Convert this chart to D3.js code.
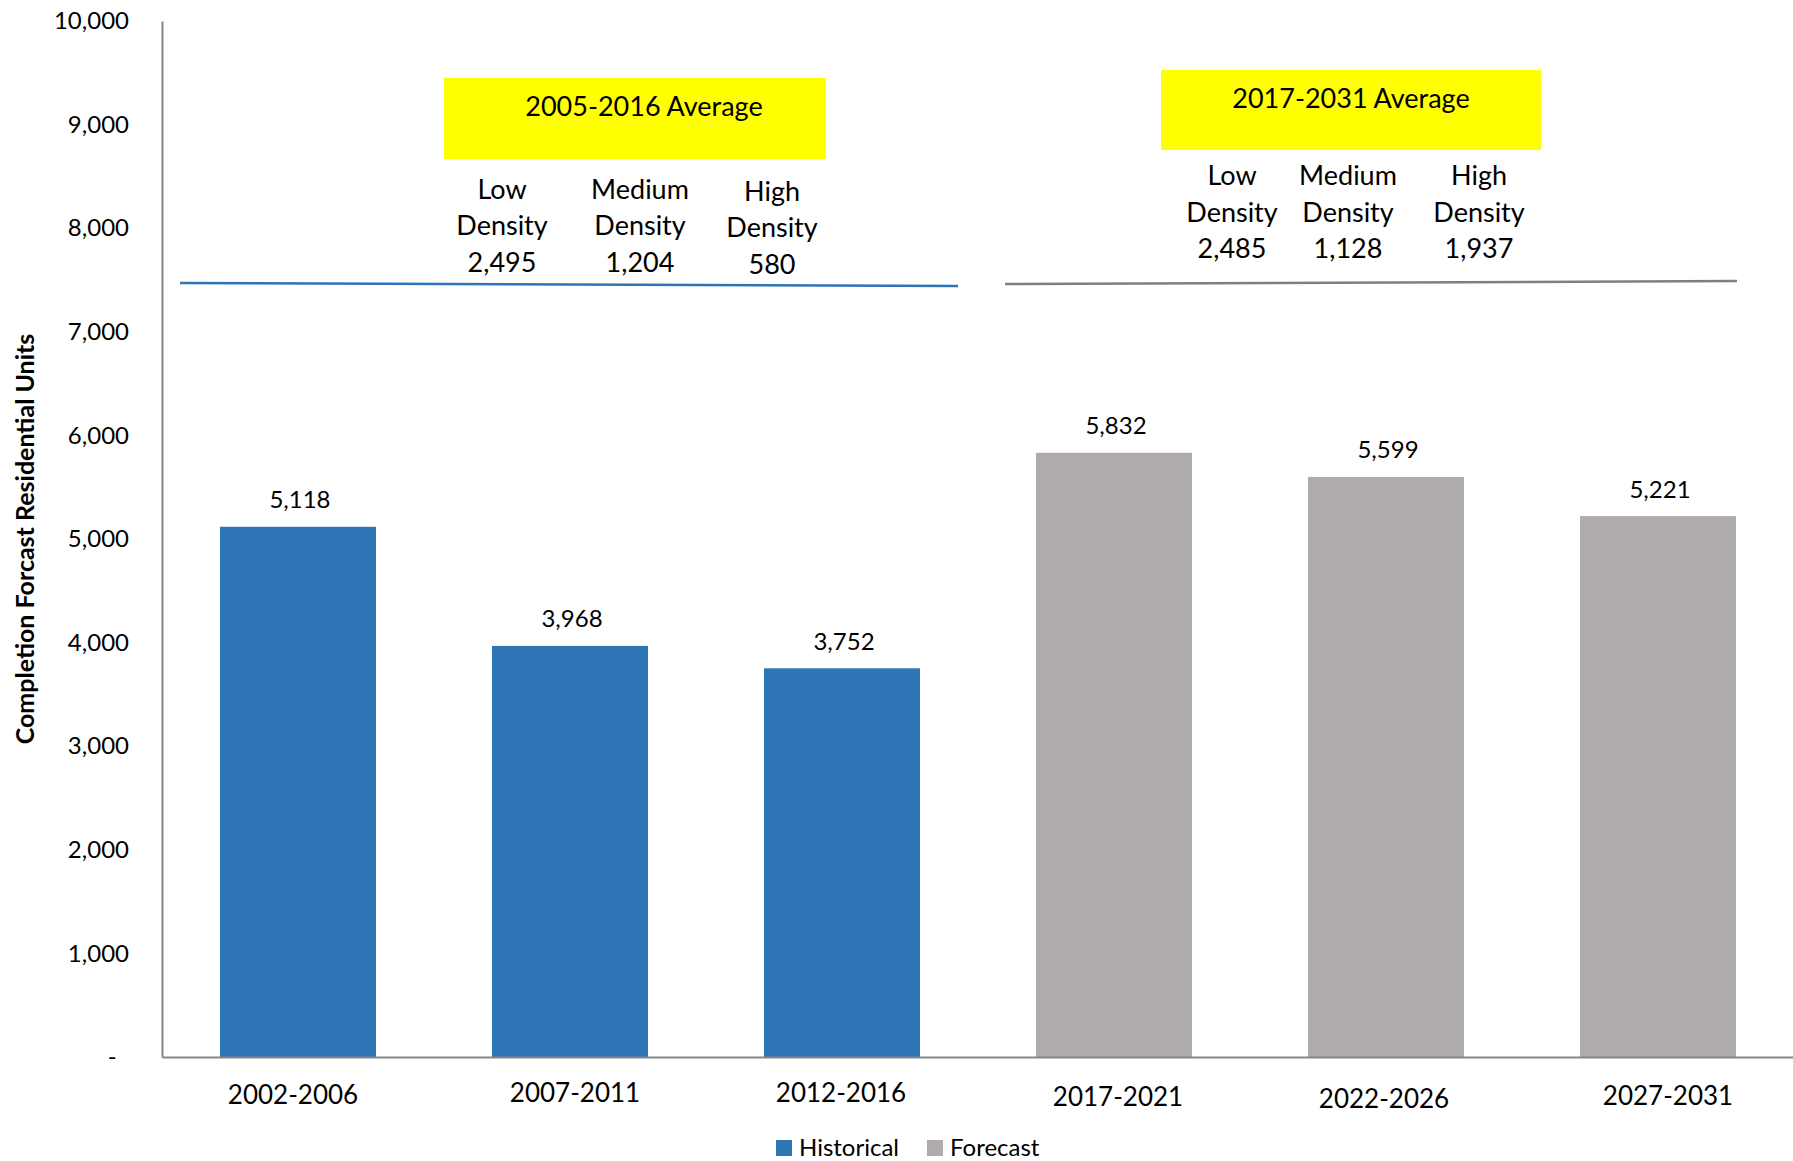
<!DOCTYPE html>
<html>
<head>
<meta charset="utf-8">
<script src="https://cdn.jsdelivr.net/npm/d3@7"></script>
<style>
	body { margin: 0; background: #fff; }
	svg { display: block; font-family: "Lato", "Open Sans", sans-serif; }
</style>
</head>
<body>
<div id="chart"></div>
<script>
	// Data
	const categories = ["2002-2006", "2007-2011", "2012-2016", "2017-2021", "2022-2026", "2027-2031"];
	const values = [5118, 3968, 3752, 5832, 5599, 5221];
	const barSeries = ["Historical", "Historical", "Historical", "Forecast", "Forecast", "Forecast"];
	const seriesNames = ["Historical", "Forecast"];
	const yTicks = [0, 1000, 2000, 3000, 4000, 5000, 6000, 7000, 8000, 9000, 10000];

	const densityTypes = ["Low", "Medium", "High"];
	const avgTitles = ["2005-2016 Average", "2017-2031 Average"];
	const histAverages = [2495, 1204, 580];
	const forecastAverages = [2485, 1128, 1937];
	// level of the separator lines (start, end)
	const histLine = [7471, 7442];
	const forecastLine = [7461, 7490];

	const w = 1793;
	const h = 1161;

	const color = d3.scaleOrdinal()
		.domain(seriesNames)
		.range(["#2e75b6", "#afabab"]);

	const xScale = d3.scaleBand()
		.domain(categories)
		.range([162, 1794])
		.paddingInner(0.4265)
		.paddingOuter(0.2132);

	const yScale = d3.scaleLinear()
		.domain([0, 10000])
		.range([1057, 21]);

	const fmt = d3.format(",");

	const svg = d3.select("#chart")
		.append("svg")
		.attr("width", w)
		.attr("height", h);

	// Bars
	svg.append("g")
		.selectAll("rect")
		.data(values)
		.enter()
		.append("rect")
		.attr("x", (d, i) => xScale(categories[i]))
		.attr("y", d => yScale(d))
		.attr("width", xScale.bandwidth())
		.attr("height", d => yScale(0) - yScale(d))
		.attr("fill", (d, i) => color(barSeries[i]));

	// Value labels
	svg.append("g")
		.selectAll("text")
		.data(values)
		.enter()
		.append("text")
		.attr("x", (d, i) => xScale(categories[i]) + xScale.bandwidth() / 2 + 2)
		.attr("y", d => yScale(d) - 27)
		.attr("dy", "0.35em")
		.attr("text-anchor", "middle")
		.style("font-size", "24px")
		.attr("fill", "#000")
		.text(d => fmt(d));

	// Axes
	const yAxis = d3.axisLeft(yScale)
		.tickValues(yTicks)
		.tickSize(0)
		.tickPadding(33)
		.tickFormat(d => d === 0 ? "-\u00a0\u00a0" : fmt(d));

	const yG = svg.append("g")
		.attr("transform", "translate(162,0)")
		.call(yAxis);
	yG.select(".domain").attr("stroke", "#868686").attr("stroke-width", 2);
	yG.selectAll("text").style("font-size", "24px").attr("fill", "#000")
		.style("font-family", "Lato, sans-serif");

	const xAxis = d3.axisBottom(xScale)
		.tickSize(0)
		.tickPadding(26);

	const xG = svg.append("g")
		.attr("transform", `translate(0,${yScale(0)})`)
		.call(xAxis);
	xG.select(".domain").attr("stroke", "#868686").attr("stroke-width", 2);
	// the original labels sit a little unevenly
	const nudge = [[-5, 3], [5, 1], [-1, 1], [4, 5], [-2, 7], [10, 4]];
	xG.selectAll("text").style("font-size", "26px").attr("fill", "#000")
		.style("font-family", "Lato, sans-serif")
		.attr("transform", (d, i) => `translate(${nudge[i][0]},${nudge[i][1]})`);

	// Y axis title
	svg.append("text")
		.attr("transform", "translate(25,539) rotate(-90)")
		.attr("text-anchor", "middle")
		.attr("dy", "0.35em")
		.style("font-size", "25px")
		.style("font-weight", "bold")
		.text("Completion Forcast Residential Units");

	// Separator lines
	const xl = categories;
	svg.append("line")
		.attr("x1", xScale(xl[0]) - 40)
		.attr("x2", xScale(xl[2]) + xScale.bandwidth() + 38)
		.attr("y1", yScale(histLine[0]))
		.attr("y2", yScale(histLine[1]))
		.attr("stroke", "#2e75b6")
		.attr("stroke-width", 2.5);

	svg.append("line")
		.attr("x1", xScale(xl[3]) - 31)
		.attr("x2", xScale(xl[5]) + xScale.bandwidth() + 1)
		.attr("y1", yScale(forecastLine[0]))
		.attr("y2", yScale(forecastLine[1]))
		.attr("stroke", "#7f7f7f")
		.attr("stroke-width", 2.5);

	// Average annotations
	const groups = [
		{ title: avgTitles[0], vals: histAverages, box: [444, 78, 382, 81], titleX: 644, titleY: 107, colX: [502, 640, 772], rowY: [190, 226, 263], lift: [0, 0, 2] },
		{ title: avgTitles[1], vals: forecastAverages, box: [1161, 70, 380, 80], titleX: 1351, titleY: 99, colX: [1232, 1348, 1479], rowY: [176, 213, 249], lift: [0, 0, 0] }
	];

	groups.forEach(g => {
		svg.append("rect")
			.attr("x", g.box[0])
			.attr("y", g.box[1])
			.attr("width", g.box[2])
			.attr("height", g.box[3])
			.attr("fill", "#ffff00");

		svg.append("text")
			.attr("x", g.titleX)
			.attr("y", g.titleY)
			.attr("dy", "0.35em")
			.attr("text-anchor", "middle")
			.style("font-size", "27px")
			.text(g.title);

		densityTypes.forEach((t, i) => {
			const lines = [t, "Density", fmt(g.vals[i])];
			lines.forEach((s, j) => {
				svg.append("text")
					.attr("x", g.colX[i])
					.attr("y", g.rowY[j] + g.lift[i])
					.attr("dy", "0.35em")
					.attr("text-anchor", "middle")
					.style("font-size", "27px")
					.text(s);
			});
		});
	});

	// Legend
	const legendX = [776, 927];
	const legend = svg.append("g")
		.selectAll("g")
		.data(seriesNames)
		.enter()
		.append("g")
		.attr("transform", (d, i) => `translate(${legendX[i]},1140)`);

	legend.append("rect")
		.attr("width", 16)
		.attr("height", 16)
		.attr("fill", d => color(d));

	legend.append("text")
		.attr("x", 23)
		.attr("y", 8)
		.attr("dy", "0.35em")
		.style("font-size", "24px")
		.text(d => d);
</script>
</body>
</html>
